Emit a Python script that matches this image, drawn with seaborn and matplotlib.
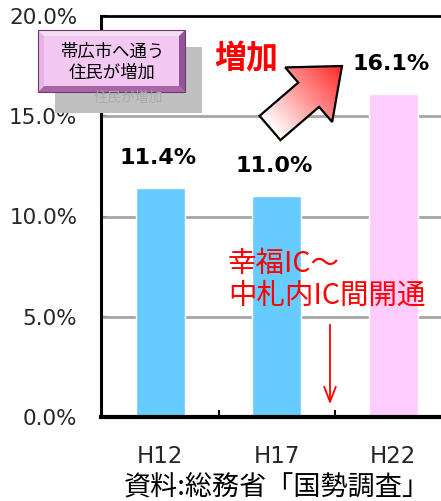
import numpy as np
import pandas as pd
import matplotlib
matplotlib.use("Agg")
import matplotlib.pyplot as plt
import seaborn as sns
from matplotlib.patches import Polygon, Rectangle

# ---- data ----
categories = ["H12", "H17", "H22"]
values = [11.4, 11.0, 16.1]
bar_colors = ["#66CCFF", "#66CCFF", "#FFCCFF"]
yticks = [0, 5, 10, 15, 20]
ytick_labels = ["0.0%", "5.0%", "10.0%", "15.0%", "20.0%"]
box_text = "帯広市へ通う\n住民が増加"
ghost_text = "住民が増加"
increase_text = "増加"
note_text = "幸福IC～\n中札内IC間開通"
source_text = "資料:総務省「国勢調査」"

sns.set_theme(style="white")
plt.rcParams["font.family"] = ["DejaVu Sans", "Noto Sans CJK JP"]

W, H = 441, 501
fig = plt.figure(figsize=(W / 100, H / 100), dpi=100)
fig.patch.set_facecolor("white")

ax = fig.add_axes([101 / W, 1 - 417 / H, 340 / W, 401 / H])
df = pd.DataFrame({"cat": categories, "val": values})
sns.barplot(data=df, x="cat", y="val", hue="cat", palette=bar_colors,
            width=0.42, legend=False, ax=ax, zorder=2, saturation=1)
ax.set_xlim(-0.51, 2.41)
ax.set_ylim(0, 20)
ax.set_yticks(yticks)
ax.set_yticklabels(ytick_labels, fontsize=15.5)
ax.set_xlabel("")
ax.set_ylabel("")
for y in yticks[1:-1]:
    ax.axhline(y, color="#A6A6A6", lw=2.0, zorder=1)
ax.spines["right"].set_visible(False)
ax.spines["left"].set_linewidth(2.2)
ax.spines["bottom"].set_linewidth(3)
ax.spines["top"].set_linewidth(2)
for s in ["left", "bottom", "top"]:
    ax.spines[s].set_color("black")
ax.tick_params(axis="y", direction="in", length=4, width=1.5, color="black",
               pad=17, left=True)
ax.set_xticks(range(len(categories)))
ax.set_xticklabels(categories, fontsize=16.5)
ax.tick_params(axis="x", which="major", length=0, pad=20)
ax.set_xticks([0.5, 1.5], minor=True)
ax.tick_params(axis="x", which="minor", direction="in", length=5, width=1.5,
               color="black", bottom=True)

for i, v in enumerate(values):
    ax.text(i - 0.02, v + 1.5, f"{v:.1f}%", ha="center", va="center",
            fontsize=16, fontweight="bold", color="black")

# ---- overlay in pixel coordinates ----
ov = fig.add_axes([0, 0, 1, 1], zorder=5)
ov.set_xlim(0, W)
ov.set_ylim(H, 0)
ov.axis("off")
ov.patch.set_alpha(0)

# shadow box with ghost text
ov.add_patch(Rectangle((55, 47), 147, 66, facecolor="#C0C0C0", edgecolor="none"))
ov.text(128, 98, ghost_text, ha="center", va="center", fontsize=10,
        color="#ABABAB", family="Noto Sans CJK JP")
# beveled pink box
x0, y0, x1, y1 = 38, 30, 185, 92
b = 6
ov.add_patch(Polygon([(x0, y0), (x1, y0), (x1 - b, y0 + b), (x0 + b, y0 + b)],
                     facecolor="#F6DDF6", edgecolor="none"))
ov.add_patch(Polygon([(x0, y0), (x0 + b, y0 + b), (x0 + b, y1 - b), (x0, y1)],
                     facecolor="#E6B4E6", edgecolor="none"))
ov.add_patch(Polygon([(x0, y1), (x0 + b, y1 - b), (x1 - b, y1 - b), (x1, y1)],
                     facecolor="#A866A8", edgecolor="none"))
ov.add_patch(Polygon([(x1, y0), (x1, y1), (x1 - b, y1 - b), (x1 - b, y0 + b)],
                     facecolor="#94549A", edgecolor="none"))
ov.add_patch(Rectangle((x0 + b, y0 + b), (x1 - x0) - 2 * b, (y1 - y0) - 2 * b,
                       facecolor="#F3C9F3", edgecolor="none"))
ov.add_patch(Rectangle((x0, y0), x1 - x0, y1 - y0, facecolor="none",
                       edgecolor="#6E3A6E", lw=0.8))
ov.text(112, 62, box_text, ha="center", va="center", fontsize=12.5,
        color="black", family="Noto Sans CJK JP", linespacing=1.25)

# "増加"
ov.text(246, 59, increase_text, ha="center", va="center", fontsize=23,
        fontweight="bold", color="#FF0000", family="Noto Sans CJK JP")

# gradient block arrow
tail = np.array([270.0, 128.0])
tip = np.array([342.0, 66.0])
d = tip - tail
L = np.hypot(*d)
u = d / L
n = np.array([-u[1], u[0]])
head_len = 44
sw = 16
hw = 36
base = tip - u * head_len
pts = [tail + n * sw, base + n * sw, base + n * hw, tip,
       base - n * hw, base - n * sw, tail - n * sw]
arrow = Polygon(pts, closed=True, facecolor="none", edgecolor="black", lw=1.6,
                zorder=7)
ov.add_patch(arrow)
xs = [p[0] for p in pts]
ys = [p[1] for p in pts]
ex0, ex1, ey0, ey1 = min(xs) - 2, max(xs) + 2, min(ys) - 2, max(ys) + 2
gx, gy = np.meshgrid(np.linspace(ex0, ex1, 200), np.linspace(ey0, ey1, 200))
t = ((gx - tail[0]) * u[0] + (gy - tail[1]) * u[1]) / L
t = np.clip(t, 0, 1)
img = np.ones((200, 200, 3))
img[..., 1] = 1 - 0.85 * t
img[..., 2] = 1 - 0.85 * t
im = ov.imshow(img, extent=(ex0, ex1, ey1, ey0), origin="upper", zorder=6,
               aspect="auto")
clip = Polygon(pts, closed=True, transform=ov.transData)
im.set_clip_path(clip)
ov.set_xlim(0, W)
ov.set_ylim(H, 0)

# note and down arrow
ov.text(228, 280, note_text, ha="left", va="center", fontsize=20.5,
        color="#FF0000", family="Noto Sans CJK JP", linespacing=1.1)
ov.annotate("", xy=(330, 407), xytext=(330, 322),
            arrowprops=dict(arrowstyle="->,head_length=0.9,head_width=0.35",
                            color="#FF0000", lw=1.3))

# source
ov.text(277, 487, source_text, ha="center", va="center", fontsize=19.5,
        color="black", family="Noto Sans CJK JP")

fig.savefig("out.png", dpi=100, facecolor="white")
